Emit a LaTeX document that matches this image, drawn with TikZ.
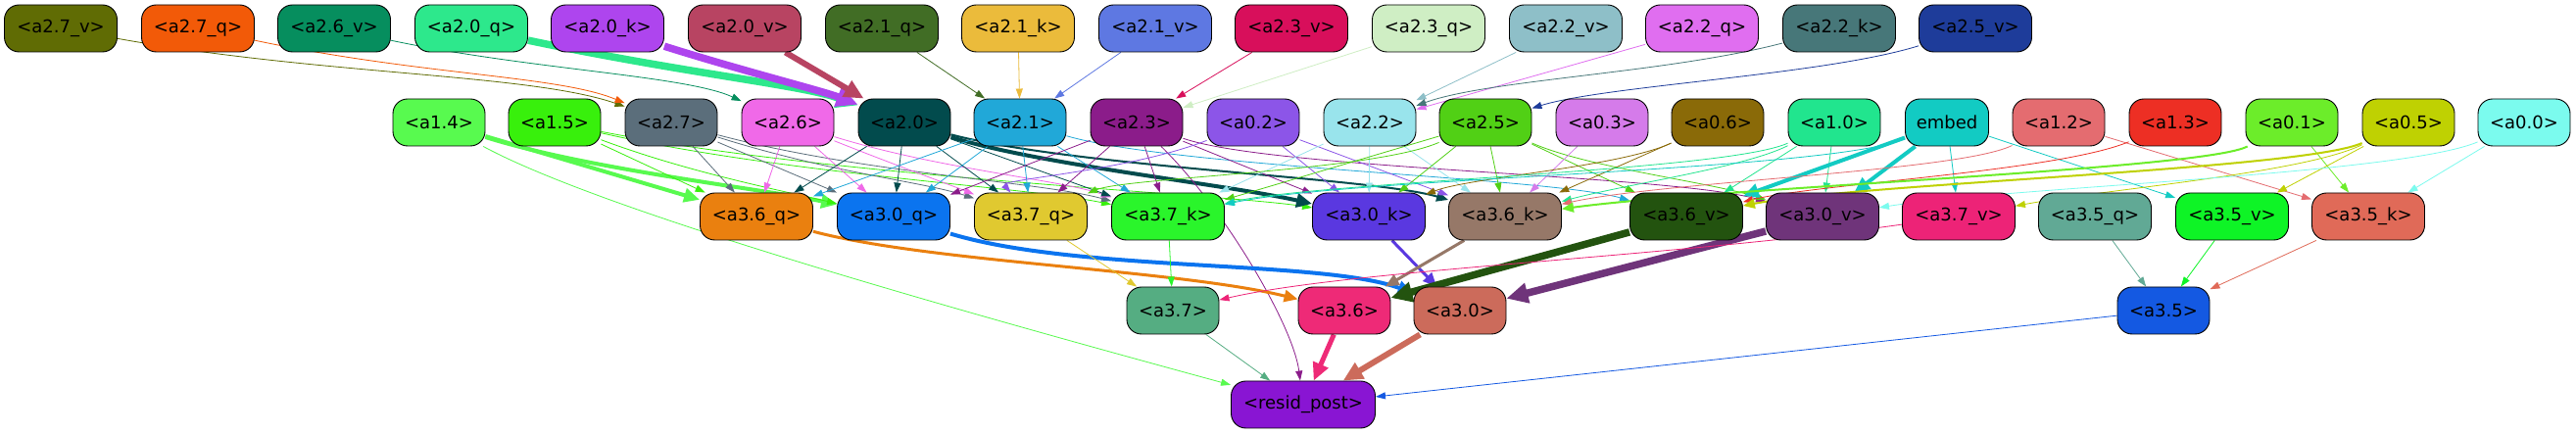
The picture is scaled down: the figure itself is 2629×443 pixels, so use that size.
\documentclass[tikz,border=0pt]{standalone}
\usepackage{fontspec}
\setmainfont{DejaVu Sans}
\usetikzlibrary{arrows.meta}
\pgfdeclarelayer{bg}
\pgfdeclarelayer{paper}
\pgfsetlayers{paper,bg,main}
\definecolor{cA27v}{HTML}{606C04}
\definecolor{cA27q}{HTML}{F25A08}
\definecolor{cA26v}{HTML}{068E5E}
\definecolor{cA20q}{HTML}{2DE88C}
\definecolor{cA20k}{HTML}{AE45EE}
\definecolor{cA20v}{HTML}{B84462}
\definecolor{cA21q}{HTML}{416D25}
\definecolor{cA21k}{HTML}{EBBB3B}
\definecolor{cA21v}{HTML}{5E78E2}
\definecolor{cA23v}{HTML}{D80F5B}
\definecolor{cA23q}{HTML}{CFEEC4}
\definecolor{cA22v}{HTML}{8EBFC8}
\definecolor{cA22q}{HTML}{E06EF0}
\definecolor{cA22k}{HTML}{477779}
\definecolor{cA25v}{HTML}{1E3C9A}
\definecolor{cA14}{HTML}{58FA4F}
\definecolor{cA15}{HTML}{38F00C}
\definecolor{cA27}{HTML}{5B6E7B}
\definecolor{cA26}{HTML}{F069E8}
\definecolor{cA20}{HTML}{024B4D}
\definecolor{cA21}{HTML}{21A8D8}
\definecolor{cA23}{HTML}{8B1C8A}
\definecolor{cA02}{HTML}{8C55E8}
\definecolor{cA22}{HTML}{99E4EC}
\definecolor{cA25}{HTML}{51D015}
\definecolor{cA03}{HTML}{D57BEA}
\definecolor{cA06}{HTML}{8A6A08}
\definecolor{cA10}{HTML}{21E58E}
\definecolor{cEmb}{HTML}{12CBC3}
\definecolor{cA12}{HTML}{E46C70}
\definecolor{cA13}{HTML}{ED2F24}
\definecolor{cA01}{HTML}{6CED2A}
\definecolor{cA05}{HTML}{BFD102}
\definecolor{cA00}{HTML}{7BFBEE}
\definecolor{cQ36}{HTML}{EA800F}
\definecolor{cQ30}{HTML}{0B74EF}
\definecolor{cQ37}{HTML}{E0C930}
\definecolor{cK37}{HTML}{2AF52B}
\definecolor{cK30}{HTML}{5A38E0}
\definecolor{cK36}{HTML}{967868}
\definecolor{cV36}{HTML}{23530F}
\definecolor{cV30}{HTML}{6F347A}
\definecolor{cV37}{HTML}{ED2377}
\definecolor{cQ35}{HTML}{61A995}
\definecolor{cV35}{HTML}{0EF426}
\definecolor{cK35}{HTML}{E06A58}
\definecolor{cA37}{HTML}{55AD82}
\definecolor{cA36}{HTML}{EE2A77}
\definecolor{cA30}{HTML}{CC6B5B}
\definecolor{cA35}{HTML}{1459E2}
\definecolor{cRes}{HTML}{8915D3}
\tikzset{
  nb/.style={draw=black, line width=0.9pt, rounded corners=15pt, minimum height=48pt,
             inner sep=0pt, font=\fontsize{18}{20}\selectfont, text=black},
  wp/.style={nb, minimum width=94pt},
  wx/.style={nb, minimum width=115pt},
  ln1/.style={line width=0.8pt, -{Triangle[length=10pt,width=7pt]}},
  ln2/.style={line width=2pt, -{Triangle[length=12pt,width=10pt]}},
  ln3/.style={line width=3pt, -{Triangle[length=14pt,width=12pt]}},
  ln4/.style={line width=4pt, -{Triangle[length=16pt,width=14pt]}},
  ln5/.style={line width=5pt, -{Triangle[length=18pt,width=16pt]}},
  ln6/.style={line width=6pt, -{Triangle[length=20pt,width=18pt]}},
  ln7/.style={line width=7.5pt, -{Triangle[length=22pt,width=20pt]}},
}
\begin{document}
\begin{tikzpicture}[x=1pt,y=1pt]
\useasboundingbox (0,0) rectangle (2629,443);
\begin{pgfonlayer}{paper}
\fill[white] (0,0) rectangle (2629,443);
\end{pgfonlayer}
% row 1
\node[wx,fill=cA27v] (v27) at (62,414) {<a2.7\_v>};
\node[wx,fill=cA27q] (q27) at (202,414) {<a2.7\_q>};
\node[wx,fill=cA26v] (v26) at (341,414) {<a2.6\_v>};
\node[wx,fill=cA20q] (q20) at (481,414) {<a2.0\_q>};
\node[wx,fill=cA20k] (k20) at (620,414) {<a2.0\_k>};
\node[wx,fill=cA20v] (v20) at (760,414) {<a2.0\_v>};
\node[wx,fill=cA21q] (q21) at (900,414) {<a2.1\_q>};
\node[wx,fill=cA21k] (k21) at (1039,414) {<a2.1\_k>};
\node[wx,fill=cA21v] (v21) at (1179,414) {<a2.1\_v>};
\node[wx,fill=cA23v] (v23) at (1318,414) {<a2.3\_v>};
\node[wx,fill=cA23q] (q23) at (1458,414) {<a2.3\_q>};
\node[wx,fill=cA22v] (v22) at (1598,414) {<a2.2\_v>};
\node[wx,fill=cA22q] (q22) at (1737,414) {<a2.2\_q>};
\node[wx,fill=cA22k] (k22) at (1877,414) {<a2.2\_k>};
\node[wx,fill=cA25v] (v25) at (2016,414) {<a2.5\_v>};
% row 2
\node[wp,fill=cA14] (n14) at (448,318) {<a1.4>};
\node[wp,fill=cA15] (n15) at (566,318) {<a1.5>};
\node[wp,fill=cA27] (n27) at (685,318) {<a2.7>};
\node[wp,fill=cA26] (n26) at (804,318) {<a2.6>};
\node[wp,fill=cA20] (n20) at (923,318) {<a2.0>};
\node[wp,fill=cA21] (n21) at (1041,318) {<a2.1>};
\node[wp,fill=cA23] (n23) at (1160,318) {<a2.3>};
\node[wp,fill=cA02] (n02) at (1279,318) {<a0.2>};
\node[wp,fill=cA22] (n22) at (1398,318) {<a2.2>};
\node[wp,fill=cA25] (n25) at (1516,318) {<a2.5>};
\node[wp,fill=cA03] (n03) at (1635,318) {<a0.3>};
\node[wp,fill=cA06] (n06) at (1753,318) {<a0.6>};
\node[wp,fill=cA10] (n10) at (1872,318) {<a1.0>};
\node[nb,minimum width=85pt,fill=cEmb] (emb) at (1987,318) {embed};
\node[wp,fill=cA12] (n12) at (2101,318) {<a1.2>};
\node[wp,fill=cA13] (n13) at (2220,318) {<a1.3>};
\node[wp,fill=cA01] (n01) at (2339,318) {<a0.1>};
\node[wp,fill=cA05] (n05) at (2458,318) {<a0.5>};
\node[wp,fill=cA00] (n00) at (2576,318) {<a0.0>};
% row 3
\node[wx,fill=cQ36] (q36) at (772,222) {<a3.6\_q>};
\node[wx,fill=cQ30] (q30) at (912,222) {<a3.0\_q>};
\node[wx,fill=cQ37] (q37) at (1052,222) {<a3.7\_q>};
\node[wx,fill=cK37] (k37) at (1192,222) {<a3.7\_k>};
\node[wx,fill=cK30] (k30) at (1397,222) {<a3.0\_k>};
\node[wx,fill=cK36] (k36) at (1536,222) {<a3.6\_k>};
\node[wx,fill=cV36] (v36) at (1721,222) {<a3.6\_v>};
\node[wx,fill=cV30] (v30) at (1860,222) {<a3.0\_v>};
\node[wx,fill=cV37] (v37) at (1999,222) {<a3.7\_v>};
\node[wx,fill=cQ35] (q35) at (2138,222) {<a3.5\_q>};
\node[wx,fill=cV35] (v35) at (2278,222) {<a3.5\_v>};
\node[wx,fill=cK35] (k35) at (2417,222) {<a3.5\_k>};
% row 4
\node[wp,fill=cA37] (n37) at (1197,126) {<a3.7>};
\node[wp,fill=cA36] (n36) at (1372,126) {<a3.6>};
\node[wp,fill=cA30] (n30) at (1490,126) {<a3.0>};
\node[wp,fill=cA35] (n35) at (2208,126) {<a3.5>};
% row 5
\node[nb,minimum width=147pt,fill=cRes] (res) at (1330,30) {<resid\_post>};

\begin{pgfonlayer}{bg}
% top row -> row 2
\draw[ln1,cA27v] (v27) .. controls (330,366) and (540,368) .. (n27);
\draw[ln1,cA27q] (q27) .. controls (430,366) and (570,366) .. (n27);
\draw[ln1,cA26v] (v26) .. controls (540,372) and (700,366) .. (n26);
\draw[ln7,cA20q] (q20) .. controls (700,368) and (820,356) .. (n20);
\draw[ln7,cA20k] (k20) .. controls (760,370) and (840,350) .. (n20);
\draw[ln6,cA20v] (v20) -- (n20);
\draw[ln1,cA21q] (q21) -- (n21);
\draw[ln1,cA21k] (k21) -- (n21);
\draw[ln1,cA21v] (v21) -- (n21);
\draw[ln1,cA23v] (v23) -- (n23);
\draw[ln1,cA23q] (q23) -- (n23);
\draw[ln1,cA22v] (v22) -- (n22);
\draw[ln1,cA22q] (q22) -- (n22);
\draw[ln1,cA22k] (k22) .. controls (1700,368) and (1520,362) .. (n22);
\draw[ln1,cA25v] (v25) .. controls (1860,366) and (1640,356) .. (n25);
% row 2 -> row 3
\draw[ln4,cA14] (n14) -- (q36);
\draw[ln4,cA14] (n14) .. controls (600,270) and (780,250) .. (q30);
\draw[ln1,cA14] (n14) .. controls (620,225) and (1000,120) .. (res);
\draw[ln1,cA15] (n15) -- (q36);
\draw[ln1,cA15] (n15) .. controls (700,268) and (790,250) .. (q30);
\draw[ln1,cA15] (n15) .. controls (800,265) and (1050,252) .. (k37);
\draw[ln1,cA15] (n15) .. controls (850,262) and (1250,245) .. (k30);
\draw[ln1,cA27] (n27) -- (q36);
\draw[ln1,cA27] (n27) -- (q30);
\draw[ln1,cA27] (n27) .. controls (850,266) and (940,258) .. (q37);
\draw[ln1,cA27] (n27) .. controls (880,266) and (1060,258) .. (k37);
\draw[ln1,cA26] (n26) -- (q36);
\draw[ln1,cA26] (n26) -- (q30);
\draw[ln1,cA26] (n26) .. controls (920,272) and (960,258) .. (q37);
\draw[ln1,cA26] (n26) .. controls (960,270) and (1080,260) .. (k37);
\draw[ln1,cA20] (n20) -- (q36);
\draw[ln1,cA20] (n20) -- (q30);
\draw[ln1,cA20] (n20) -- (q37);
\draw[ln1,cA20] (n20) -- (k37);
\draw[ln4,cA20] (n20) .. controls (1060,275) and (1250,255) .. (k30);
\draw[ln2,cA20] (n20) .. controls (1100,272) and (1400,262) .. (k36);
\draw[ln1,cA21] (n21) -- (q36);
\draw[ln1,cA21] (n21) -- (q30);
\draw[ln1,cA21] (n21) -- (q37);
\draw[ln1,cA21] (n21) -- (k37);
\draw[ln1,cA21] (n21) .. controls (1200,272) and (1580,262) .. (v36);
\draw[ln1,cA23] (n23) -- (q30);
\draw[ln1,cA23] (n23) -- (q37);
\draw[ln1,cA23] (n23) -- (k37);
\draw[ln1,cA23] (n23) -- (k30);
\draw[ln1,cA23] (n23) .. controls (1300,270) and (1700,265) .. (v30);
\draw[ln1,cA23] (n23) .. controls (1250,230) and (1320,110) .. (res);
\draw[ln1,cA02] (n02) .. controls (1150,268) and (1020,260) .. (q37);
\draw[ln1,cA02] (n02) -- (k30);
\draw[ln1,cA02] (n02) -- (k36);
\draw[ln1,cA22] (n22) -- (k37);
\draw[ln1,cA22] (n22) -- (k30);
\draw[ln1,cA22] (n22) -- (k36);
\draw[ln1,cA25] (n25) .. controls (1400,268) and (1150,262) .. (q37);
\draw[ln1,cA25] (n25) -- (k37);
\draw[ln1,cA25] (n25) -- (k30);
\draw[ln1,cA25] (n25) -- (k36);
\draw[ln1,cA25] (n25) -- (v36);
\draw[ln1,cA25] (n25) .. controls (1620,272) and (1740,258) .. (v30);
\draw[ln1,cA03] (n03) -- (k36);
\draw[ln1,cA06] (n06) -- (k36);
\draw[ln1,cA06] (n06) .. controls (1650,272) and (1500,262) .. (k30);
\draw[ln1,cA10] (n10) -- (v36);
\draw[ln1,cA10] (n10) -- (v30);
\draw[ln1,cA10] (n10) .. controls (1780,272) and (1660,255) .. (k36);
\draw[ln1,cA10] (n10) .. controls (1760,268) and (1350,258) .. (k37);
\draw[ln4,cEmb] (emb) -- (v36);
\draw[ln4,cEmb] (emb) -- (v30);
\draw[ln1,cEmb] (emb) -- (v37);
\draw[ln1,cEmb] (emb) -- (v35);
\draw[ln1,cEmb] (emb) .. controls (1860,268) and (1380,262) .. (k37);
\draw[ln1,cA12] (n12) -- (k35);
\draw[ln1,cA12] (n12) .. controls (2000,268) and (1700,258) .. (k36);
\draw[ln1,cA13] (n13) .. controls (2100,268) and (1850,255) .. (v36);
\draw[ln1,cA01] (n01) -- (k35);
\draw[ln2,cA01] (n01) .. controls (2250,270) and (1760,252) .. (k36);
\draw[ln1,cA05] (n05) -- (v35);
\draw[ln1,cA05] (n05) .. controls (2350,266) and (2150,250) .. (v37);
\draw[ln2,cA05] (n05) .. controls (2350,270) and (1900,256) .. (v36);
\draw[ln1,cA00] (n00) -- (k35);
\draw[ln1,cA00] (n00) .. controls (2450,265) and (2050,252) .. (v30);
% row 3 -> row 4
\draw[ln3,cQ36] (q36) .. controls (950,175) and (1200,168) .. (n36);
\draw[ln4,cQ30] (q30) .. controls (1100,165) and (1350,178) .. (n30);
\draw[ln1,cQ37] (q37) -- (n37);
\draw[ln1,cK37] (k37) -- (n37);
\draw[ln3,cK30] (k30) -- (n30);
\draw[ln3,cK36] (k36) -- (n36);
\draw[ln7,cV36] (v36) -- (n36);
\draw[ln7,cV30] (v30) -- (n30);
\draw[ln1,cV37] (v37) .. controls (1700,180) and (1380,168) .. (n37);
\draw[ln1,cQ35] (q35) -- (n35);
\draw[ln1,cV35] (v35) -- (n35);
\draw[ln1,cK35] (k35) -- (n35);
% row 4 -> output
\draw[ln1,cA37] (n37) -- (res);
\draw[ln5,cA36] (n36) -- (res);
\draw[ln6,cA30] (n30) -- (res);
\draw[ln1,cA35] (n35) -- (res);
\end{pgfonlayer}
\end{tikzpicture}
\end{document}
